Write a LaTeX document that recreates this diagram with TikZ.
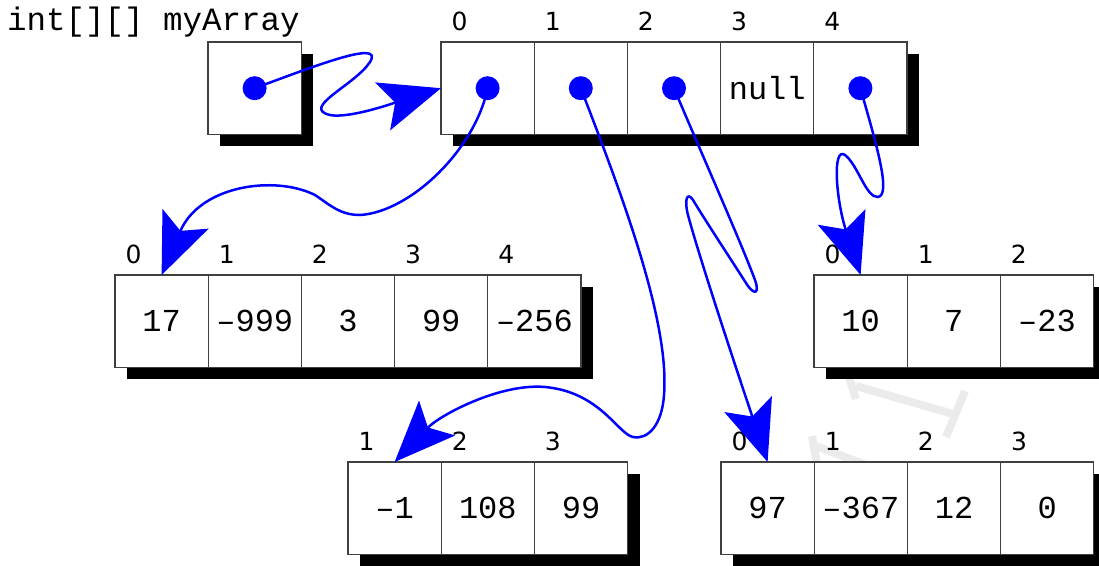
\documentclass[tikz,border=0pt]{standalone}
\usepackage{fontspec}
\setmonofont{Liberation Mono}
\newfontfamily\idxfam{DejaVu Sans}
\usetikzlibrary{arrows.meta,calc}
\newcommand\valfont{\ttfamily\fontsize{32}{36}\selectfont}
\newcommand\idxfont{\idxfam\fontsize{25}{28}\selectfont}
\tikzset{
 cell/.style={draw=black!75, line width=1.2pt, fill=white, minimum width=93.2pt, minimum height=92.4pt, inner sep=0pt, outer sep=0pt, anchor=north west, font=\valfont},
 idx/.style={font=\idxfont, anchor=base, inner sep=0pt},
 dot/.style={circle, fill=blue, minimum size=24pt, inner sep=0pt},
 ptr/.style={draw=blue, line width=2.5pt, -{Stealth[length=61pt,width=50pt,inset=13pt]}},
 shadow/.style={fill=black},
 wmark/.style={draw=black!8, line width=8pt},
}
\begin{document}
\begin{tikzpicture}[x=1pt,y=-1pt]
\path[use as bounding box] (0,0) rectangle (1099,565);
\clip (0,0) rectangle (1099,565);
% faint watermark
\draw[wmark] (856,386) -- (953,414);
\draw[wmark] (848,374) -- (856,399);
\draw[wmark] (965,391) -- (946,437);
\draw[wmark] (812,436) -- (818,470);
\draw[wmark] (816,446) -- (900,478);
% shadows
\fill[shadow] (220,54) rectangle (313.2,146.4);
\fill[shadow] (453,54) rectangle (919,146.4);
\fill[shadow] (127,287) rectangle (593,379.4);
\fill[shadow] (826,287) rectangle (1106,379.4);
\fill[shadow] (360,474) rectangle (640,566.4);
\fill[shadow] (733,474) rectangle (1106,566.4);
% declaration
\node[font=\ttfamily\fontsize{32.5}{36}\selectfont, anchor=base west, inner sep=0pt] (decl) at (7,30) {int[][] myArray};
\node[cell] (P0) at (208,42) {};
\node[dot] (p0) at (P0.center) {};
% top array
\foreach \v [count=\i from 0] in {{},{},{},null,{}} {
  \node[cell] (T\i) at ({441+93.2*\i},42) {\v};
  \node[idx] (lT\i) at ($(T\i.north west)+(18.5,-12)$) {\i};
}
\foreach \i in {0,1,2,4} \node[dot] (t\i) at (T\i.center) {};
% array A
\foreach \v [count=\i from 0] in {17,–999,3,99,–256} {
  \node[cell] (A\i) at ({115+93.2*\i},275) {\v};
  \node[idx] (lA\i) at ($(A\i.north west)+(18.5,-12)$) {\i};
}
% array B
\foreach \v [count=\i from 0] in {10,7,–23} {
  \node[cell] (B\i) at ({814+93.2*\i},275) {\v};
  \node[idx] (lB\i) at ($(B\i.north west)+(18.5,-12)$) {\i};
}
% array C
\foreach \v/\l [count=\i from 0] in {–1/1,108/2,99/3} {
  \node[cell] (C\i) at ({348+93.2*\i},462) {\v};
  \node[idx] (lC\i) at ($(C\i.north west)+(18.5,-12)$) {\l};
}
% array D
\foreach \v [count=\i from 0] in {97,–367,12,0} {
  \node[cell] (D\i) at ({721+93.2*\i},462) {\v};
  \node[idx] (lD\i) at ($(D\i.north west)+(18.5,-12)$) {\i};
}
% pointers
\draw[ptr] (p0.center) .. controls (310,68) and (385,38) .. (370,62)
  .. controls (355,85) and (300,108) .. (330,115)
  .. controls (350,119) and (400,101) .. (T0.west);
\draw[ptr] (t0.center) .. controls (475,150) and (410,212) .. (360,215)
  .. controls (340,215) and (330,205) .. (315,195)
  .. controls (275,175) and (200,185) .. (A0.north);
\draw[ptr] (t1.center) .. controls (620,190) and (670,320) .. (664,395)
  .. controls (662,425) and (648,440) .. (633,437)
  .. controls (618,434) and (600,392) .. (545,387)
  .. controls (500,383) and (440,415) .. (C0.north);
\draw[ptr] (t2.center) .. controls (700,150) and (740,240) .. (755,280)
  .. controls (760,294) and (754,296) .. (746,283)
  .. controls (730,258) and (705,220) .. (693,200)
  .. controls (687,191) and (684,200) .. (688,215)
  .. controls (700,260) and (740,380) .. (D0.north);
\draw[ptr] (t4.center) .. controls (875,140) and (892,195) .. (878,197)
  .. controls (866,198) and (858,165) .. (845,155)
  .. controls (832,146) and (836,200) .. (B0.north);
\end{tikzpicture}
\end{document}
